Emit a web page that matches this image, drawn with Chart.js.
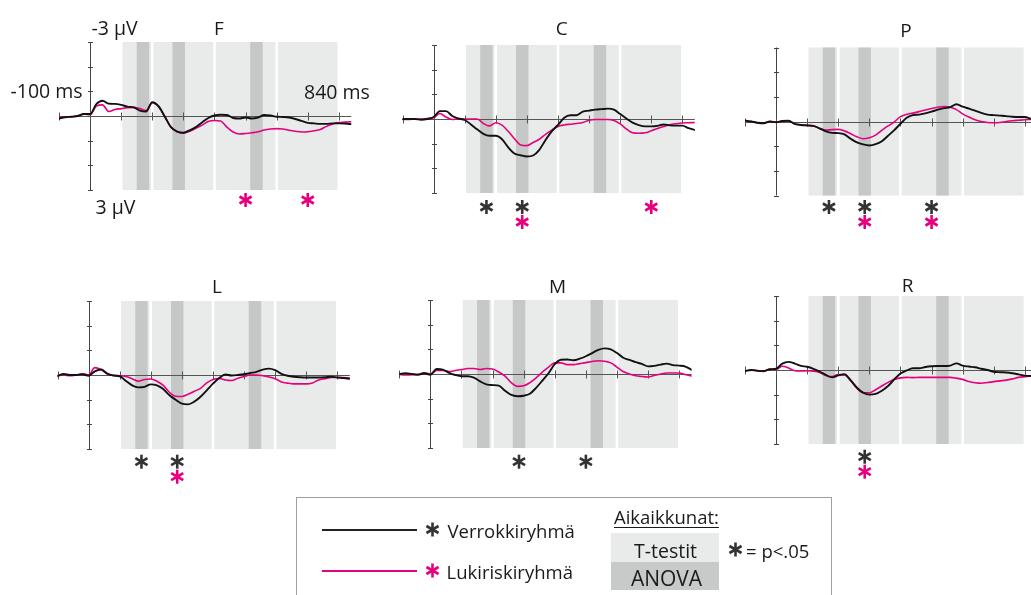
<!DOCTYPE html>
<html>
<head>
<meta charset="utf-8">
<script src="https://cdn.jsdelivr.net/npm/chart.js@4.4.0/dist/chart.umd.min.js"></script>
<style>
html,body{margin:0;padding:0;background:#fff;width:1031px;height:595px;overflow:hidden;font-family:'Open Sans',sans-serif;color:#1a1a1a;}
canvas{position:absolute;left:0;top:0;}
.abs{position:absolute;white-space:nowrap;}
.t{font-size:18.5px;line-height:18.5px;}
#lgbox{left:296px;top:497px;width:536px;height:130px;border:1.5px solid #a0a0a0;box-sizing:border-box;}
.lgline{height:2px;width:95px;}
.ast{width:15px;height:15px;}
</style>
</head>
<body>
<canvas id="cF" width="1040" height="600" style="width:1040px;height:600px"></canvas>
<canvas id="cC" width="1040" height="600" style="width:1040px;height:600px"></canvas>
<canvas id="cP" width="1040" height="600" style="width:1040px;height:600px"></canvas>
<canvas id="cL" width="1040" height="600" style="width:1040px;height:600px"></canvas>
<canvas id="cM" width="1040" height="600" style="width:1040px;height:600px"></canvas>
<canvas id="cR" width="1040" height="600" style="width:1040px;height:600px"></canvas>

<div id="lgbox" class="abs"></div>
<div class="abs lgline" style="left:322px;top:528.5px;background:#222;"></div>
<div class="abs lgline" style="left:322px;top:569.5px;background:#e6007e;"></div>
<svg class="abs ast" style="left:425px;top:522px" viewBox="0 0 15 15"><g stroke="#333" stroke-width="2.6"><line x1="7.5" y1="0.5" x2="7.5" y2="14.5"/><line x1="1.44" y1="4" x2="13.56" y2="11"/><line x1="1.44" y1="11" x2="13.56" y2="4"/></g></svg>
<svg class="abs ast" style="left:424.5px;top:562.5px" viewBox="0 0 15 15"><g stroke="#e6007e" stroke-width="2.6"><line x1="7.5" y1="0.5" x2="7.5" y2="14.5"/><line x1="1.44" y1="4" x2="13.56" y2="11"/><line x1="1.44" y1="11" x2="13.56" y2="4"/></g></svg>
<div class="abs t" style="left:447.5px;top:521.9px">Verrokkiryhmä</div>
<div class="abs t" style="left:446.5px;top:562.6px">Lukiriskiryhmä</div>
<div class="abs t" style="left:614px;top:507.9px;text-decoration:underline;text-underline-offset:3px;text-decoration-thickness:1px;">Aikaikkunat:</div>
<div class="abs" style="left:610.5px;top:533.3px;width:108px;height:28.4px;background:#e9eaea;"></div>
<div class="abs" style="left:610.5px;top:561.7px;width:108px;height:28.5px;background:#c8c9c9;"></div>
<div class="abs" style="left:610.5px;width:110px;text-align:center;top:541.2px;font-size:19.5px;line-height:19.5px;">T-testit</div>
<div class="abs" style="left:610.5px;width:112px;text-align:center;top:567.6px;font-size:21px;line-height:21px;">ANOVA</div>
<svg class="abs ast" style="left:728px;top:542px" viewBox="0 0 15 15"><g stroke="#333" stroke-width="2.6"><line x1="7.5" y1="0.5" x2="7.5" y2="14.5"/><line x1="1.44" y1="4" x2="13.56" y2="11"/><line x1="1.44" y1="11" x2="13.56" y2="4"/></g></svg>
<div class="abs t" style="left:746px;top:541.9px">= p&lt;.05</div>

<script>
// ---- data ----
const times = [-100,-80,-60,-40,-20,0,20,40,60,80,100,120,140,160,180,200,220,240,260,280,300,320,340,360,380,400,420,440,460,480,500,520,540,560,580,600,620,640,660,680,700,720,740,760,780,800,820,840];

const F_verrokki = [0.10,0.05,0.03,0.00,-0.08, -0.08,-0.48,-0.62,-0.50,-0.49, -0.45,-0.38,-0.35,-0.22,-0.18, -0.56,-0.40,0.02,0.45,0.63, 0.68,0.58,0.45,0.26,0.08, -0.02,-0.05,-0.04,0.08,0.10, 0.06,0.10,0.06,-0.04,-0.02, 0.03,0.04,0.06,0.12,0.20, 0.28,0.30,0.32,0.32,0.30, 0.30,0.31,0.33];
const F_lukiriski = [0.05,0.04,0.03,0.00,-0.08, -0.05,-0.40,-0.45,-0.18,-0.26, -0.30,-0.34,-0.35,-0.30,-0.22, -0.54,-0.38,0.02,0.45,0.63, 0.70,0.62,0.50,0.37,0.22, 0.18,0.20,0.45,0.65,0.73, 0.71,0.68,0.64,0.57,0.53, 0.51,0.53,0.58,0.62,0.65, 0.64,0.60,0.55,0.42,0.32, 0.27,0.25,0.23];

const C_verrokki = [0.00,0.00,0.00,0.03,0.00, -0.08,-0.32,-0.32,-0.12,-0.02, 0.04,0.22,0.42,0.60,0.68, 0.68,0.82,1.15,1.40,1.47, 1.52,1.48,1.25,0.85,0.50, 0.24,-0.05,-0.15,-0.15,-0.30, -0.34,-0.38,-0.40,-0.42,-0.38, -0.20,-0.02,0.15,0.25,0.30, 0.30,0.28,0.22,0.26,0.27, 0.27,0.37,0.45];
const C_lukiriski = [0.02,0.02,0.00,0.00,-0.02, -0.05,-0.22,-0.08,0.02,0.00, 0.00,0.00,0.00,0.18,0.28, 0.15,0.25,0.50,0.80,1.05, 1.08,0.95,0.82,0.62,0.45, 0.30,0.24,0.21,0.18,0.14, 0.05,0.02,0.02,0.02,0.06, 0.20,0.40,0.56,0.58,0.56, 0.48,0.39,0.30,0.23,0.19, 0.16,0.15,0.14];

const P_verrokki = [-0.04,0.00,0.05,0.07,0.00, 0.03,-0.02,-0.03,0.10,0.14, 0.16,0.18,0.28,0.40,0.46, 0.47,0.52,0.70,0.85,0.93, 0.97,0.92,0.80,0.58,0.35, 0.09,-0.15,-0.26,-0.28,-0.33, -0.40,-0.48,-0.54,-0.58,-0.70, -0.60,-0.52,-0.44,-0.35,-0.28, -0.26,-0.24,-0.22,-0.19,-0.18, -0.18,-0.11,-0.05];
const P_lukiriski = [-0.04,0.00,0.05,0.07,0.00, 0.03,-0.02,-0.03,0.10,0.14, 0.16,0.18,0.28,0.35,0.33, 0.32,0.38,0.50,0.62,0.70, 0.66,0.55,0.36,0.18,0.02, -0.20,-0.29,-0.34,-0.40,-0.47, -0.53,-0.58,-0.61,-0.58,-0.48, -0.31,-0.18,-0.07,0.00,0.04, 0.05,0.04,0.00,-0.03,-0.05, -0.07,-0.08,-0.08];

const L_verrokki = [0.04,-0.04,0.00,0.00,-0.03, 0.03,-0.15,-0.22,-0.06,0.02, 0.05,0.24,0.42,0.50,0.48, 0.38,0.42,0.57,0.82,1.00, 1.16,1.19,1.08,0.88,0.62, 0.35,0.12,-0.02,0.02,0.00, -0.03,-0.08,-0.13,-0.22,-0.26, -0.20,-0.05,0.03,0.07,0.09, 0.10,0.10,0.10,0.09,0.07, 0.10,0.12,0.15];
const L_lukiriski = [0.04,0.00,0.03,0.00,-0.05, 0.00,-0.30,-0.22,-0.05,0.02, 0.03,0.06,0.15,0.25,0.18, 0.16,0.25,0.42,0.70,0.86, 0.87,0.78,0.66,0.54,0.32, 0.18,0.14,0.20,0.22,0.13, 0.06,0.00,0.00,0.03,0.08, 0.15,0.28,0.33,0.36,0.36, 0.36,0.32,0.20,0.15,0.10, 0.10,0.10,0.12];

const M_verrokki = [0.00,-0.03,0.00,0.03,-0.03, 0.03,-0.20,-0.18,-0.05,0.04, 0.09,0.09,0.15,0.30,0.42, 0.45,0.47,0.68,0.85,0.90, 0.88,0.80,0.56,0.27,-0.03, -0.40,-0.58,-0.59,-0.56,-0.62, -0.72,-0.85,-0.98,-1.04,-1.00, -0.85,-0.66,-0.57,-0.48,-0.41, -0.31,-0.33,-0.38,-0.42,-0.36, -0.34,-0.30,-0.17];
const M_lukiriski = [0.02,0.04,0.03,0.02,-0.05, 0.00,-0.14,-0.14,-0.10,-0.14, -0.18,-0.22,-0.22,-0.18,-0.22, -0.20,-0.08,0.09,0.35,0.50, 0.48,0.35,0.16,-0.08,-0.28, -0.45,-0.45,-0.38,-0.38,-0.42, -0.46,-0.51,-0.54,-0.52,-0.45, -0.28,-0.10,0.00,0.07,0.10, 0.12,0.06,0.00,-0.04,-0.04, -0.04,0.02,0.08];

const R_verrokki = [0.04,0.00,0.03,0.05,-0.03, -0.05,-0.26,-0.33,-0.26,-0.17, -0.13,-0.05,0.06,0.20,0.30, 0.22,0.17,0.42,0.72,0.92, 1.00,0.97,0.84,0.65,0.38, 0.14,0.02,-0.07,-0.07,-0.12, -0.15,-0.16,-0.16,-0.18,-0.27, -0.18,-0.14,-0.11,-0.05,0.00, 0.07,0.09,0.10,0.13,0.18, 0.23,0.24,0.24];
const R_lukiriski = [0.03,0.00,0.03,0.05,-0.03, -0.03,-0.15,-0.08,0.03,0.04, 0.03,0.05,0.10,0.22,0.27, 0.18,0.20,0.43,0.74,0.92, 0.92,0.80,0.65,0.50,0.38, 0.32,0.30,0.31,0.30,0.30, 0.30,0.30,0.30,0.30,0.33, 0.38,0.47,0.52,0.54,0.51, 0.47,0.44,0.41,0.36,0.30, 0.27,0.24,0.22];

// time windows (ms)
const tWindowEdges = [100,200,400,600,800];
const anovaStart = [150,265,515];
const anovaEnd   = [190,305,555];
// axis ticks
const xTicks = [-100,0,100,200,300,400,500,600,700,800];
const yTicks = [-3,-2,-1,0,1,2,3];
// significant effects (ms)
const F_sigVerrokki = [],        F_sigLukiriski = [500,700];
const C_sigVerrokki = [170,285], C_sigLukiriski = [285,700];
const P_sigVerrokki = [170,285,500], P_sigLukiriski = [285,500];
const L_sigVerrokki = [170,285], L_sigLukiriski = [285];
const M_sigVerrokki = [285,500], M_sigLukiriski = [];
const R_sigVerrokki = [285],     R_sigLukiriski = [285];

// ---- layout ----
const CW = 1040, CH = 600, PW = 292.3, PH = 148;
const BLACK = '#111', PINK = '#e6007e', LIGHT = '#e9eaea', DARK = '#c6c7c7';
const FONT = "'Open Sans', sans-serif";

const panels = [
  {id:'cF', name:'F', left:59,    top:42,   star1:200,   title:[219,35],    black:F_verrokki, pink:F_lukiriski, sb:F_sigVerrokki, sp:F_sigLukiriski,
    labels:[['-3 \u00b5V',91.5,35],['-100 ms',10.5,98.3],['840 ms',304,99],['3 \u00b5V',95.5,213.5]]},
  {id:'cC', name:'C', left:402.5, top:45,   star1:207,   title:[561.7,34.5], black:C_verrokki, pink:C_lukiriski, sb:C_sigVerrokki, sp:C_sigLukiriski},
  {id:'cP', name:'P', left:745,   top:47.5, star1:207,   title:[906,37],    black:P_verrokki, pink:P_lukiriski, sb:P_sigVerrokki, sp:P_sigLukiriski},
  {id:'cL', name:'L', left:57.5,  top:301,  star1:461.7, title:[217,293],   black:L_verrokki, pink:L_lukiriski, sb:L_sigVerrokki, sp:L_sigLukiriski},
  {id:'cM', name:'M', left:399.3, top:300,  star1:461.7, title:[557.5,293], black:M_verrokki, pink:M_lukiriski, sb:M_sigVerrokki, sp:M_sigLukiriski},
  {id:'cR', name:'R', left:745,   top:296,  star1:456.7, title:[907.5,291.5], black:R_verrokki, pink:R_lukiriski, sb:R_sigVerrokki, sp:R_sigLukiriski}
];

function drawAsterisk(ctx, cx, cy, color){
  const r = 7, lw = 2.6;
  ctx.save();
  ctx.strokeStyle = color; ctx.lineWidth = lw; ctx.lineCap = 'butt';
  [90, 30, -30].forEach(a => {
    const rad = a*Math.PI/180, dx = r*Math.cos(rad), dy = r*Math.sin(rad);
    ctx.beginPath(); ctx.moveTo(cx-dx, cy-dy); ctx.lineTo(cx+dx, cy+dy); ctx.stroke();
  });
  ctx.restore();
}

const erpPlugin = {
  id: 'erp',
  beforeDatasetsDraw(chart, args, opts) {
    const {ctx} = chart; const x = chart.scales.x, y = chart.scales.y;
    const yTop = y.getPixelForValue(-3), yBot = y.getPixelForValue(3);
    ctx.save();
    // T-test windows
    ctx.fillStyle = LIGHT;
    for (let i = 0; i < tWindowEdges.length-1; i++) {
      const x1 = x.getPixelForValue(tWindowEdges[i]) + 1.3;
      const x2 = x.getPixelForValue(tWindowEdges[i+1]) - 1.3;
      ctx.fillRect(x1, yTop, x2-x1, yBot-yTop);
    }
    // ANOVA windows
    ctx.fillStyle = DARK;
    for (let i = 0; i < anovaStart.length; i++) {
      const x1 = x.getPixelForValue(anovaStart[i]), x2 = x.getPixelForValue(anovaEnd[i]);
      ctx.fillRect(x1, yTop, x2-x1, yBot-yTop);
    }
    // y axis
    const x0 = Math.round(x.getPixelForValue(0)) + 0.5;
    ctx.strokeStyle = '#444'; ctx.lineWidth = 1;
    ctx.beginPath(); ctx.moveTo(x0, yTop); ctx.lineTo(x0, yBot); ctx.stroke();
    yTicks.forEach(v => { const py = Math.round(y.getPixelForValue(v)) + 0.5;
      ctx.beginPath(); ctx.moveTo(x0-2.5, py); ctx.lineTo(x0+2.5, py); ctx.stroke(); });
    // x axis (at 0 µV)
    const y0 = Math.round(y.getPixelForValue(0)) + 0.5;
    ctx.strokeStyle = '#555';
    ctx.beginPath(); ctx.moveTo(x.getPixelForValue(-100), y0); ctx.lineTo(x.getPixelForValue(840), y0); ctx.stroke();
    xTicks.forEach(t => { const px = Math.round(x.getPixelForValue(t)) + 0.5;
      ctx.beginPath(); ctx.moveTo(px, y0-4); ctx.lineTo(px, y0+4); ctx.stroke(); });
    ctx.restore();
  },
  afterDraw(chart, args, opts) {
    const {ctx} = chart; const x = chart.scales.x;
    const p = opts.panel;
    ctx.save();
    ctx.fillStyle = '#1a1a1a';
    ctx.textBaseline = 'alphabetic';
    ctx.font = "19px " + FONT; ctx.textAlign = 'center';
    ctx.fillText(p.name, p.title[0], p.title[1]);
    if (p.labels) {
      ctx.font = "19.5px " + FONT; ctx.textAlign = 'left';
      p.labels.forEach(l => ctx.fillText(l[0], l[1], l[2]));
    }
    ctx.restore();
    p.sb.forEach(t => drawAsterisk(ctx, x.getPixelForValue(t), p.star1, '#333'));
    p.sp.forEach(t => drawAsterisk(ctx, x.getPixelForValue(t), p.sb.includes(t) ? p.star1 + 15 : p.star1, PINK));
  }
};

panels.forEach(p => {
  const mk = arr => times.map((t, i) => ({x: t, y: arr[i]}));
  new Chart(document.getElementById(p.id), {
    type: 'line',
    data: { datasets: [
      {label: 'Verrokkiryhmä', data: mk(p.black), borderColor: BLACK, borderWidth: 1.9},
      {label: 'Lukiriskiryhmä', data: mk(p.pink), borderColor: PINK, borderWidth: 1.6}
    ]},
    options: {
      responsive: false, animation: false, devicePixelRatio: 1, events: [],
      layout: { padding: { left: p.left, top: p.top, right: CW - p.left - PW, bottom: CH - p.top - PH } },
      elements: { point: { radius: 0 }, line: { cubicInterpolationMode: 'monotone', borderJoinStyle: 'round', borderCapStyle: 'round' } },
      plugins: { legend: { display: false }, tooltip: { enabled: false }, title: { display: false }, erp: { panel: p } },
      scales: {
        x: { type: 'linear', min: -100, max: 840, display: false },
        y: { type: 'linear', min: -3, max: 3, reverse: true, display: false }
      }
    },
    plugins: [erpPlugin]
  });
});
</script>
</body>
</html>
